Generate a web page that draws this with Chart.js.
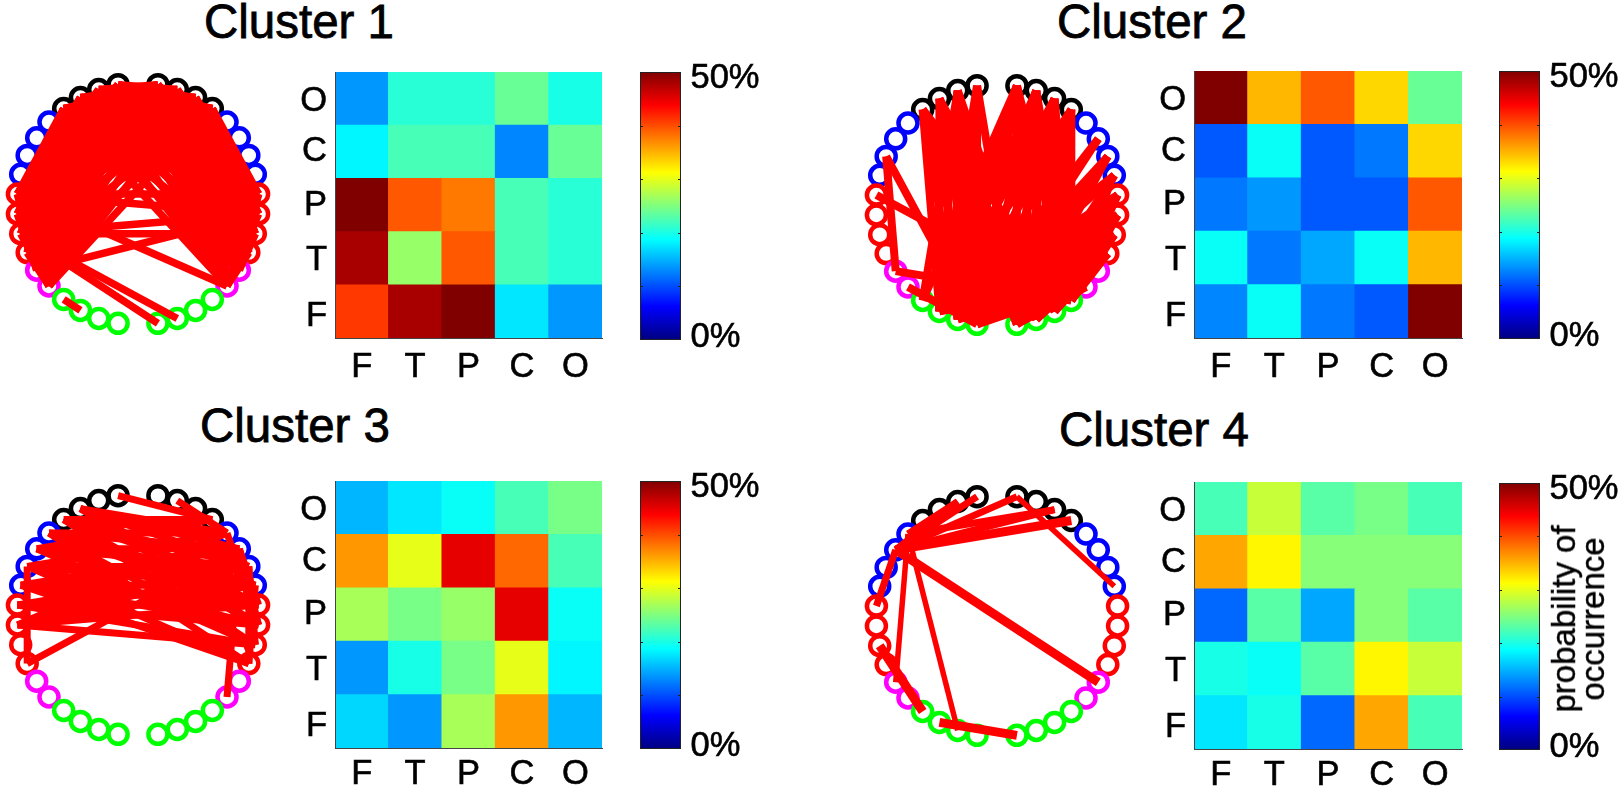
<!DOCTYPE html>
<html>
<head>
<meta charset="utf-8">
<script src="https://cdn.jsdelivr.net/npm/chart.js@4"></script>
<style>
html,body{margin:0;padding:0;background:#fff;width:1621px;height:789px;overflow:hidden;font-family:'Liberation Sans',Arial,sans-serif}
canvas{position:absolute;display:block}
.title{position:absolute;font-size:47.5px;line-height:54px;color:#000;white-space:nowrap;transform:translateX(-50%);-webkit-text-stroke:.8px #000}
.rot{position:absolute;font-size:33px;line-height:29px;color:#000;text-align:center;white-space:nowrap;transform:translate(-50%,-50%) rotate(-90deg);-webkit-text-stroke:.4px #000}
</style>
</head>
<body>
<script>
// ---------- text ----------
const clusterTitles = ['Cluster 1','Cluster 2','Cluster 3','Cluster 4'];
const regionLabels = ['F','T','P','C','O'];          // columns left to right, rows bottom to top
const rowLabelPositions = [.41,1.45,2.5,3.5,4.45];   // where each row label sits on the row axis
const colorbarTitle = ['probability of','occurrence'];

// ---------- heat maps, percent; rows listed F,T,P,C,O (bottom to top), columns F,T,P,C,O ----------
const heat1 = [[41,48.4,50,17.5,14],[48.4,25.9,39.6,22.5,21],[50,39.6,37.5,22,20.5],[18,22.5,22,12.9,23.7],[13.5,20.6,20.6,23.7,20.3]];
const heat2 = [[12.8,19.3,12.1,10.5,50],[19.3,12.1,14.7,18.75,34.4],[12,14,10.4,10.5,39.6],[10.4,18.75,10.4,12,33],[50,34.6,39.6,33,23.7]];
const heat3 = [[17,14,26.9,36.6,15.2],[14,19.75,24.4,29.8,18.2],[26.6,24.6,26,44.6,18.75],[36.6,29.8,44.6,38.4,21.9],[15.2,17.5,18.75,21.9,24.6]];
const heat4 = [[17.2,19.75,11.4,35.9,21.9],[19.6,18.75,22.9,31.25,28.75],[11.4,22.9,14.8,25,23],[35.9,31.25,25,25,25],[21.9,28.75,22.9,24.6,22.5]];

// ---------- colour bar ----------
const colorbarRange = [50];
const colorbarTickPositions = [0.55, 48.7];
const colorbarTickLabels = ['0%','50%'];
const colorbarMinorTicks = [10,20,30,40];
const jetStops = [0,6.25,18.75,31.25,43.75,50];
const jetColors = [[0,0,128],[0,0,255],[0,255,255],[255,255,0],[255,0,0],[128,0,0]];

// ---------- electrode ring, unit circle; right hemisphere 1..18 top to bottom, left hemisphere -1..-18 ----------
const ringX = [.1646,.3247,.4759,.6142,.7357,.8372,.9158,.9694,.9966,.9966,.9694,.9158,.8372,.7357,.6142,.4759,.3247,.1646];
const ringY = [.9864,.9458,.8795,.7891,.6773,.5469,.4017,.2455,.0826,-.0826,-.2455,-.4017,-.5469,-.6773,-.7891,-.8795,-.9458,-.9864];
const ringColors = ['#000','#000','#000','#000','#00f','#00f','#00f','#00f','#f00','#f00','#f00','#f00','#f0f','#f0f','#0f0','#0f0','#0f0','#0f0'];

// ---------- edges: [node, [partners]] ----------
const edges1 = [
 [-1,[2,3,4,9,10,11,12,13,14,-9,-10,-11,-12,-13,-14]],
 [-2,[1,2,3,4,9,10,11,12,13,14,-9,-10,-11,-12,-13,-14]],
 [-3,[1,2,3,4,9,10,11,12,13,14,-9,-10,-11,-12,-13,-14]],
 [-4,[1,2,3,4,9,10,11,12,13,14,-9,-10,-11,-12,-13,-14]],
 [1,[9,10,11,12,13,14,-9,-10,-11,-12,-13,-14]],
 [2,[9,10,11,12,13,14,-9,-10,-11,-12,-13,-14]],
 [3,[9,10,11,12,13,14,-9,-10,-11,-12,-13,-14]],
 [4,[9,10,11,12,13,14,-9,-10,-11,-12,-13,-14]],
 [-9,[9,10,14,-13,-14]],
 [-10,[-13,-14]],
 [-11,[10,11,17,18,-14]],
 [-12,[-14]],
 [-13,[10]],
 [-15,[-16]],
 [9,[14,13]],[10,[14]],[11,[14,13]],[12,[14]]
];
const edges2 = [
 [-1,[-16,-17,-18,18]],
 [-2,[-15,-16,-17,-18,18,17]],
 [-3,[-16,-17,-18,18,17,16]],
 [-4,[-16,-17,-18,18,17,16,15]],
 [1,[-15,-16,-17,-18,18,17,16,15]],
 [2,[-16,-17,-18,18,17,16,15]],
 [3,[-16,-17,-18,18,17,16,15]],
 [4,[-16,-17,-18,18,17,16,15]],
 [6,[-18,-17]],
 [7,[-18,-17,18]],
 [8,[-17,-16,18,17]],
 [9,[-16,-17,-18,18,17,16]],
 [10,[-16,-17,-18,18,17,16]],
 [11,[-16,-17,-18,18,17,16]],
 [12,[-16,-17,-18,18,17,16]],
 [14,[-16,-17,-18,18]],
 [15,[9,10,11,12]],
 [-7,[-13,-18]],
 [-9,[15]],
 [-13,[15]],
 [-14,[-18]]
];
const edges3 = [
 [-1,[4]],
 [2,[5]],
 [-3,[5,6,7,9,10]],
 [-4,[4,5,7,8,10,11]],
 [-5,[5,6,8,9,11,12]],
 [-6,[4,6,7,9,11]],
 [-7,[5,7,8,10,12,-12]],
 [-8,[6,7,8,9,10,12]],
 [-9,[7,8,9,10,11]],
 [-10,[5,7,8,9,11]],
 [-12,[6]],
 [12,[7,8]],[11,[6,7]],[10,[5,6]],[14,[6]],[9,[6]]
];
const edges4Thin = [[-5,[-13,-17]],[1,[8]]];
const edges4Mid = [[-6,[-1,-2,-9,1,3]],[-5,[-2,3]]];
const edges4Thick = [[-6,[4,13]],[-11,[-15]],[-16,[18]]];

const panels = [
 {title:clusterTitles[0],titleX:299,titleY:-5.5,ring:[138,204],heat:heat1,hx:[335,602],hy:[72,338],xPad:9,cb:[640,681,72,340],edges:[[edges1,7.5]]},
 {title:clusterTitles[1],titleX:1152,titleY:-5.5,ring:[997,205],heat:heat2,hx:[1194,1462],hy:[71,338],xPad:9,cb:[1499,1540,71,339],edges:[[edges2,8]]},
 {title:clusterTitles[2],titleX:295,titleY:398.5,ring:[138,614.5],heat:heat3,hx:[335,602],hy:[481,748],xPad:6,cb:[640,681,481,749],edges:[[edges3,7]]},
 {title:clusterTitles[3],titleX:1154,titleY:402.5,ring:[997,616],heat:heat4,hx:[1194,1462],hy:[482,749],xPad:6,cb:[1499,1540,483,750],edges:[[edges4Thin,5.5],[edges4Mid,7],[edges4Thick,9]]}
];

// ---------- helpers ----------
Chart.defaults.font.family = "'Liberation Sans',Arial,sans-serif";
Chart.defaults.color = '#000';
Chart.defaults.animation = false;
Chart.defaults.responsive = false;
Chart.defaults.layout.autoPadding = false;
Chart.defaults.plugins.legend.display = false;
Chart.defaults.plugins.tooltip.enabled = false;

function addCanvas(l,t,w,h){
  const c=document.createElement('canvas');
  c.width=w;c.height=h;c.style.left=l+'px';c.style.top=t+'px';c.style.width=w+'px';c.style.height=h+'px';
  document.body.appendChild(c);return c.getContext('2d');
}
function jet(v){
  const q=v>=49.9?50:(Math.floor(v/50*64)+.5)/64*50;
  let i=0;while(i<jetStops.length-2&&q>jetStops[i+1])i++;
  const f=(q-jetStops[i])/(jetStops[i+1]-jetStops[i]);
  const c=jetColors[i].map((a,k)=>Math.round(a+(jetColors[i+1][k]-a)*f));
  return `rgb(${c[0]},${c[1]},${c[2]})`;
}
function nodePoint(id){
  const k=Math.abs(id)-1;
  return {x:(id<0?-1:1)*ringX[k],y:ringY[k]};
}
function noScalePad(s){s.paddingTop=s.paddingBottom=s.paddingLeft=s.paddingRight=0;}

function drawRing(p){
  const half=140,R=121,lim=half/R;
  const ds=[];
  p.edges.slice().reverse().forEach(([list,width])=>{
    list.forEach(([a,bs])=>bs.forEach(b=>{
      ds.push({type:'scatter',showLine:true,data:[nodePoint(a),nodePoint(b)],borderColor:'#f00',backgroundColor:'#f00',borderWidth:width,pointRadius:0,tension:0});
    }));
  });
  const ids=[];for(let k=1;k<=18;k++){ids.push(k);ids.push(-k);}
  ds.push({type:'scatter',showLine:false,data:ids.map(nodePoint),
    pointRadius:9.5,pointBorderWidth:4.5,pointBackgroundColor:'rgba(0,0,0,0)',
    pointBorderColor:ids.map(i=>ringColors[Math.abs(i)-1])});
  new Chart(addCanvas(p.ring[0]-half,p.ring[1]-half,half*2,half*2),{
    type:'scatter',data:{datasets:ds},
    options:{layout:{padding:0},scales:{
      x:{type:'linear',display:false,min:-lim,max:lim},
      y:{type:'linear',display:false,min:-lim,max:lim}}}
  });
}

const labelFont={size:34.5};
function drawHeat(p){
  const padL=50,padB=60,extra=2;
  const w=p.hx[1]-p.hx[0],h=p.hy[1]-p.hy[0];
  new Chart(addCanvas(p.hx[0]-padL,p.hy[0]-extra,padL+w+extra,extra+h+padB),{
    type:'bar',
    data:{labels:regionLabels,datasets:p.heat.map((row,r)=>({
      label:regionLabels[r],data:row.map(()=>1),backgroundColor:row.map(jet),
      barPercentage:1,categoryPercentage:1,borderWidth:0,stack:'s'}))},
    options:{
      layout:{padding:{top:extra,right:extra,left:0,bottom:0}},
      scales:{
        x:{stacked:true,grid:{display:false,drawTicks:false},border:{display:true,color:'#444',width:1,z:1},
           ticks:{font:labelFont,padding:p.xPad,maxRotation:0,autoSkip:false,textStrokeWidth:.6,textStrokeColor:'#000'},
           afterFit:s=>{s.height=padB;noScalePad(s);}},
        y:{stacked:true,min:0,max:5,grid:{display:false,drawTicks:false},border:{display:true,color:'#444',width:1,z:1},
           afterBuildTicks:s=>{s.ticks=rowLabelPositions.map(v=>({value:v}));},
           ticks:{font:labelFont,padding:8,autoSkip:false,textStrokeWidth:.6,textStrokeColor:'#000',callback:(v,i)=>regionLabels[i]},
           afterFit:s=>{s.width=padL;noScalePad(s);}}
      }}
  });
}

const colorbarFrame={id:'colorbarFrame',afterDatasetsDraw(chart){
  const {ctx,chartArea:a,scales:{y}}=chart;
  ctx.save();ctx.strokeStyle='#222';ctx.lineWidth=1;
  ctx.strokeRect(a.left+.5,a.top+.5,a.right-a.left-1,a.bottom-a.top-1);
  colorbarMinorTicks.forEach(v=>{
    const py=Math.round(y.getPixelForValue(v))+.5;
    ctx.beginPath();ctx.moveTo(a.left,py);ctx.lineTo(a.left+3,py);ctx.moveTo(a.right-3,py);ctx.lineTo(a.right,py);ctx.stroke();
  });
  ctx.restore();
}};

function drawColorbar(p){
  const [l,r,t,b]=p.cb,pad=20,right=90;
  new Chart(addCanvas(l,t-pad,r-l+right,b-t+pad*2),{
    type:'bar',
    data:{labels:[''],datasets:[{data:colorbarRange,barPercentage:1,categoryPercentage:1,borderWidth:0,
      backgroundColor(ctx){
        const y=ctx.chart.scales.y;
        const y0=y?y.getPixelForValue(0):NaN,y1=y?y.getPixelForValue(50):NaN;
        if(!isFinite(y0)||!isFinite(y1))return 'rgba(0,0,0,0)';
        const g=ctx.chart.ctx.createLinearGradient(0,y0,0,y1);
        jetStops.forEach((s,i)=>g.addColorStop(s/50,`rgb(${jetColors[i].join(',')})`));
        return g;
      }}]},
    options:{
      layout:{padding:{top:pad,bottom:pad,left:0,right:0}},
      scales:{
        x:{display:false},
        y:{position:'right',min:0,max:50,grid:{display:false,drawTicks:false},border:{display:false},
           afterBuildTicks:s=>{s.ticks=colorbarTickPositions.map(v=>({value:v}));},
           ticks:{font:labelFont,padding:9.5,textStrokeWidth:.6,textStrokeColor:'#000',callback:(v,i)=>colorbarTickLabels[i]},
           afterFit:s=>{s.width=right;noScalePad(s);}}
      }},
    plugins:[colorbarFrame]
  });
}

panels.forEach(p=>{
  const d=document.createElement('div');d.className='title';d.textContent=p.title;
  d.style.left=p.titleX+'px';d.style.top=p.titleY+'px';document.body.appendChild(d);
  drawRing(p);drawHeat(p);drawColorbar(p);
});
const rot=document.createElement('div');rot.className='rot';rot.innerHTML=colorbarTitle.join('<br>');
rot.style.left='1578px';rot.style.top='619px';document.body.appendChild(rot);
</script>
</body>
</html>
